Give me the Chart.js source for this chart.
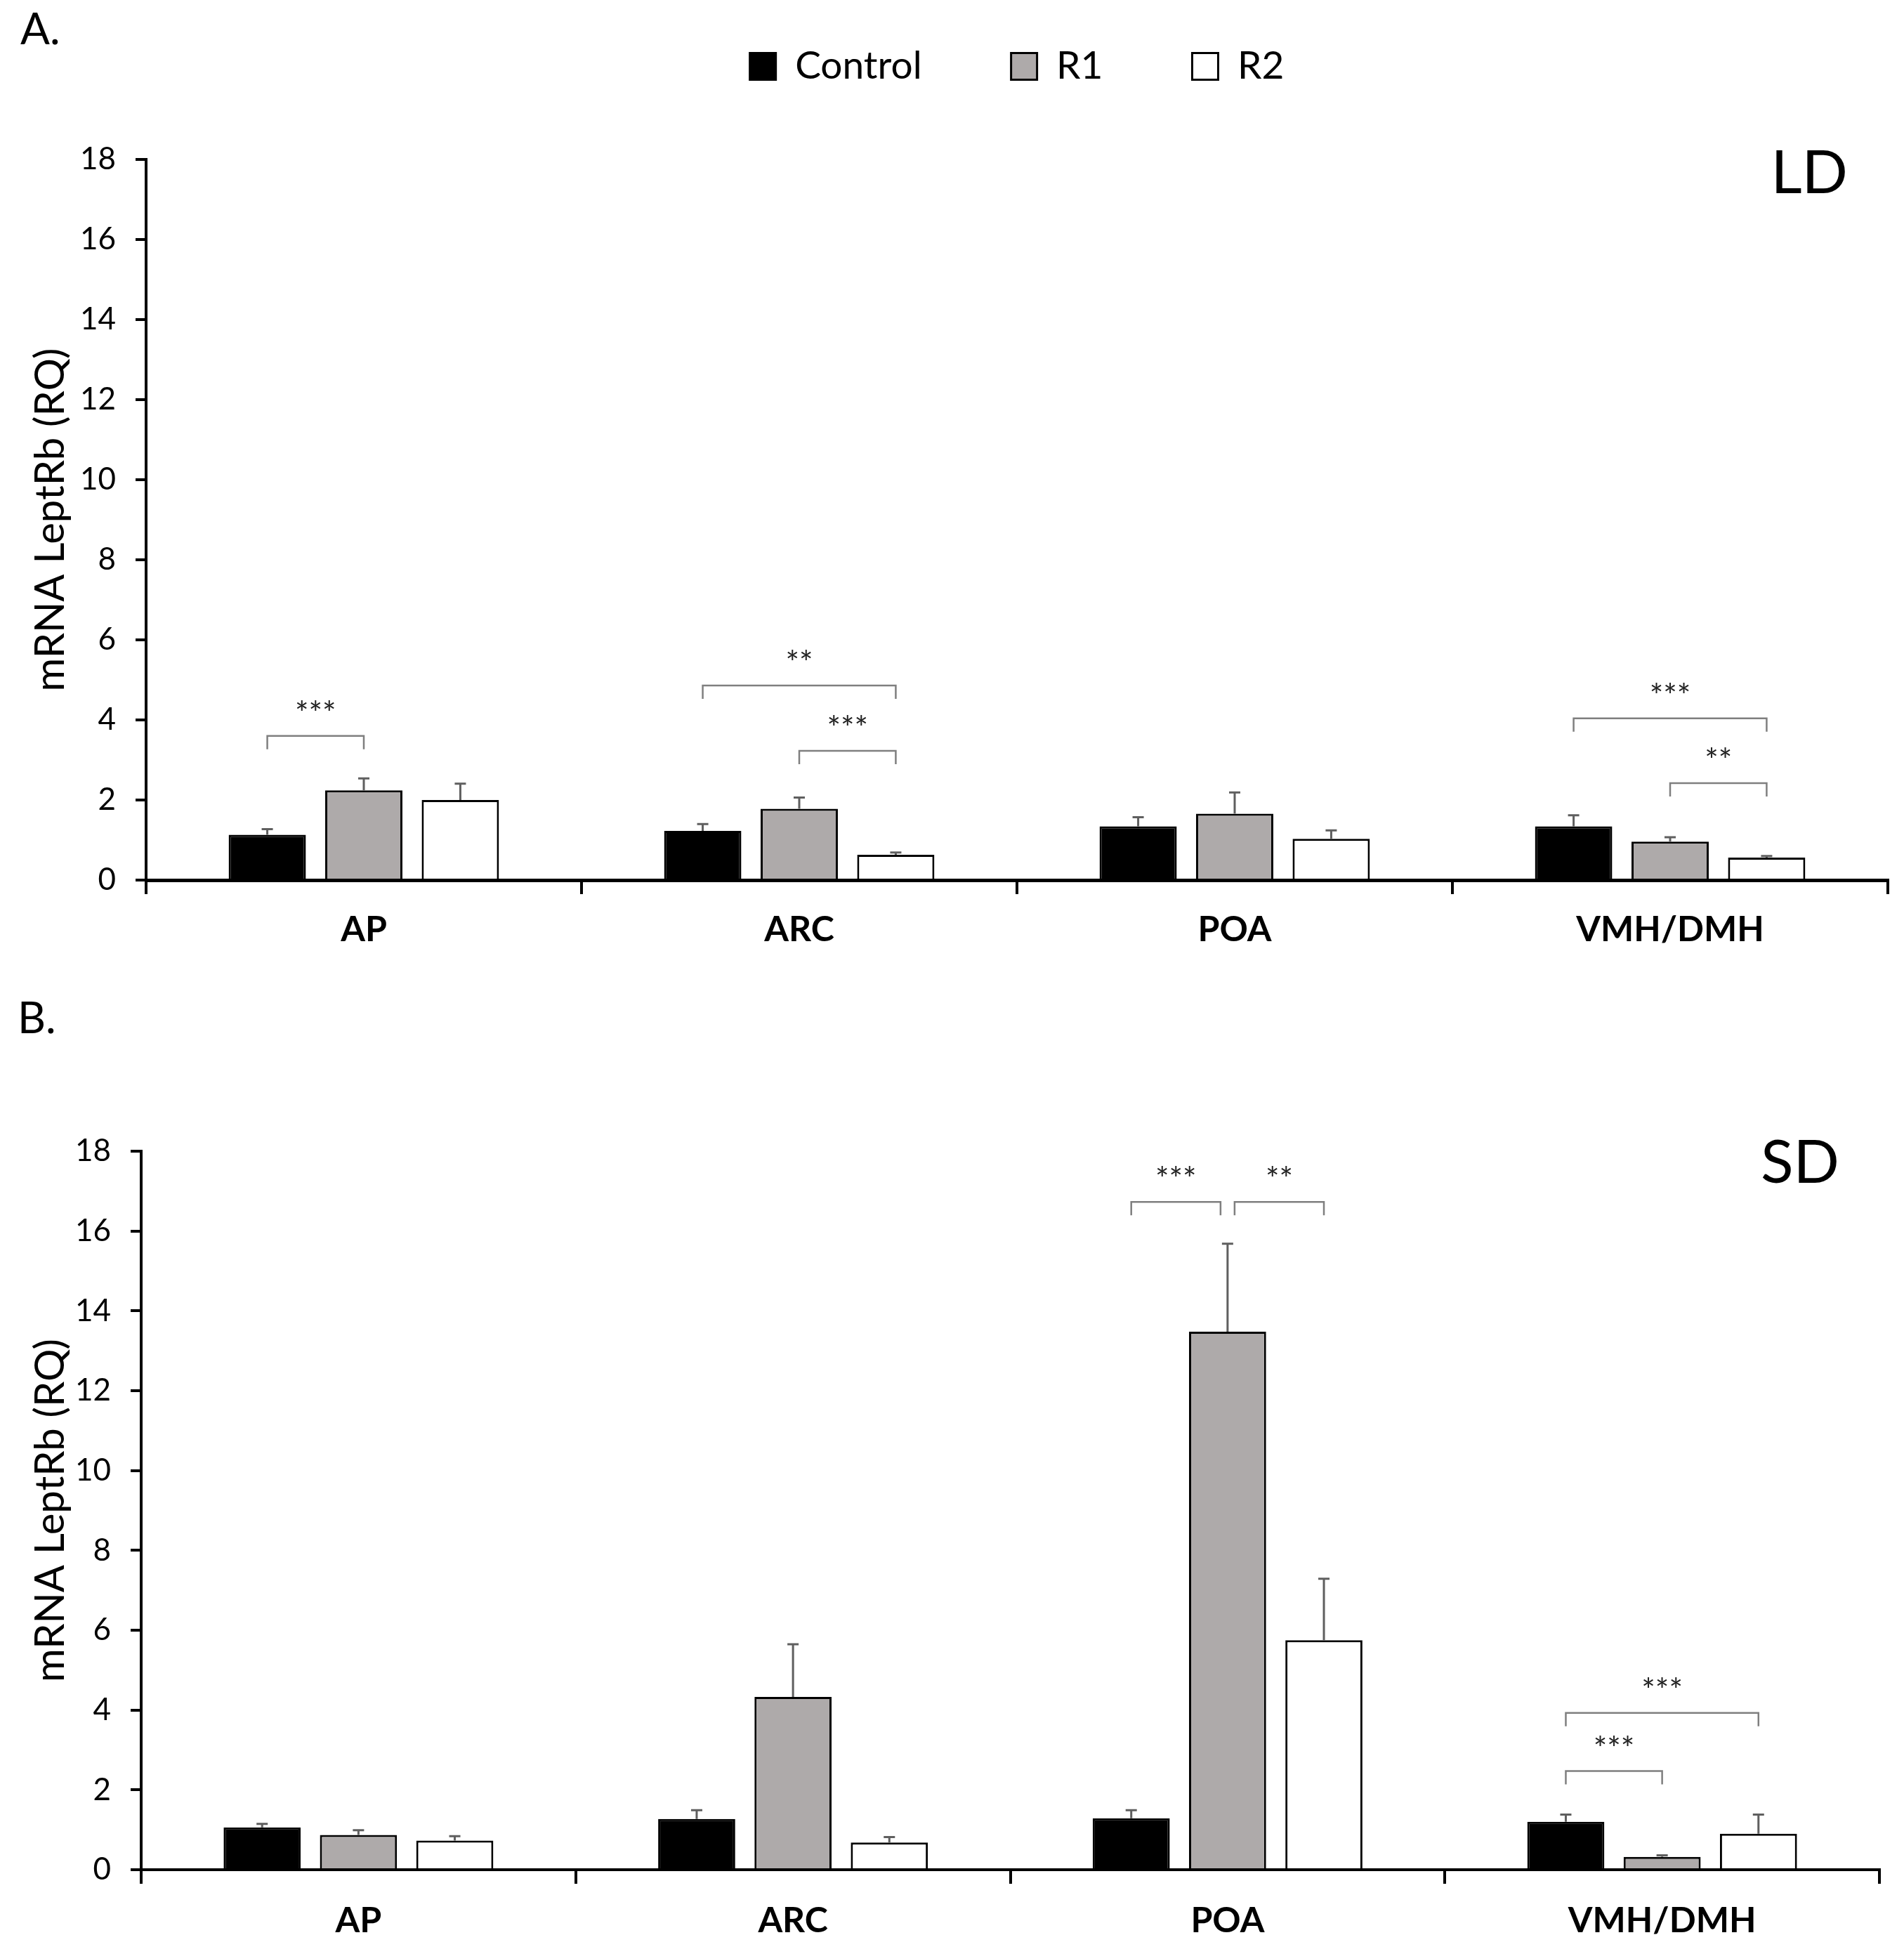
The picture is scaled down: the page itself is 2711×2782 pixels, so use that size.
<!DOCTYPE html>
<html>
<head>
<meta charset="utf-8">
<script src="https://cdn.jsdelivr.net/npm/chart.js@4.4.1/dist/chart.umd.min.js"></script>
<style>
  html, body { margin: 0; padding: 0; background: #fff; }
  body { width: 2711px; height: 2782px; position: relative; overflow: hidden; font-family: Lato, "Open Sans", sans-serif; }
  canvas { position: absolute; left: 0; }
  .lbl { position: absolute; line-height: 1; color: #000; white-space: nowrap; }
</style>
</head>
<body>
<div class="lbl" style="left:29px; top:8px; font-size:62px;">A.</div>
<div class="lbl" style="left:25px; top:1416px; font-size:62px;">B.</div>
<div class="lbl" style="right:80px; top:199px; font-size:86px;">LD</div>
<div class="lbl" style="right:92px; top:1608px; font-size:86px;">SD</div>
<canvas id="chartA" width="2711" height="1433" style="top:-60px; width:2711px; height:1433px;"></canvas>
<canvas id="chartB" width="2711" height="1382" style="top:1400px; width:2711px; height:1382px;"></canvas>
<script>
// ---------- data ----------
const categories = ['AP', 'ARC', 'POA', 'VMH/DMH'];
const seriesNames = ['Control', 'R1', 'R2'];
const yMin = 0, yMax = 18, yStep = 2;
const yTitle = 'mRNA LeptRb (RQ)';

// Panel A (LD)
const ldControl    = [1.13, 1.23, 1.34, 1.34];
const ldR1         = [2.24, 1.78, 1.66, 0.96];
const ldR2         = [2.00, 0.63, 1.03, 0.56];
const ldControlErr = [0.14, 0.17, 0.23, 0.28];
const ldR1Err      = [0.30, 0.28, 0.53, 0.11];
const ldR2Err      = [0.41, 0.06, 0.21, 0.04];
// [category, fromSeries, toSeries, level, label]
const ldBrackets = [
  [0, 0, 1, 3.60, '***'],
  [1, 0, 2, 4.86, '**'],
  [1, 1, 2, 3.23, '***'],
  [3, 0, 2, 4.04, '***'],
  [3, 1, 2, 2.42, '**']
];

// Panel B (SD)
const sdControl    = [1.06, 1.27, 1.29, 1.20];
const sdR1         = [0.87, 4.33, 13.48, 0.32];
const sdR2         = [0.73, 0.68, 5.75, 0.90];
const sdControlErr = [0.09, 0.22, 0.20, 0.18];
const sdR1Err      = [0.12, 1.32, 2.20, 0.04];
const sdR2Err      = [0.11, 0.14, 1.54, 0.48];
const sdBrackets = [
  [2, 0, 1, 16.73, '***'],
  [2, 1, 2, 16.73, '**'],
  [3, 0, 2, 3.93, '***'],
  [3, 0, 1, 2.47, '***']
];

// ---------- styles ----------
const FONT = 'Lato';
const fills = ['#000000', '#AEAAAA', '#FFFFFF'];

Chart.defaults.font.family = FONT;
Chart.defaults.color = '#000';

function makeDatasets(vals, errs) {
  return vals.map((v, i) => ({
    label: seriesNames[i],
    data: v,
    errors: errs[i],
    backgroundColor: fills[i],
    borderColor: '#000',
    borderWidth: 3,
    categoryPercentage: 0.665,
    barPercentage: 0.8
  }));
}

function spacerPlugin(h) {
  return {
    id: 'spacer',
    beforeInit(chart) {
      if (!h) return;
      Chart.layouts.addBox(chart, {
        position: 'top', weight: -10, fullSize: false,
        options: { stackWeight: 1 },
        width: 0, height: 0,
        update(maxW) { this.width = maxW; this.height = h; },
        isHorizontal() { return true; },
        getPadding() { return {top: 0, left: 0, right: 0, bottom: 0}; },
        draw() {}
      });
    }
  };
}

const errorBarPlugin = {
  id: 'errorBars',
  afterDatasetsDraw(chart) {
    const {ctx} = chart;
    const y = chart.scales.y;
    ctx.save();
    ctx.strokeStyle = '#5f5f5f';
    ctx.lineWidth = 3;
    chart.data.datasets.forEach((ds, i) => {
      const meta = chart.getDatasetMeta(i);
      meta.data.forEach((bar, j) => {
        const top = y.getPixelForValue(ds.data[j] + ds.errors[j]);
        ctx.beginPath();
        ctx.moveTo(bar.x, bar.y);
        ctx.lineTo(bar.x, top);
        ctx.moveTo(bar.x - 8, top);
        ctx.lineTo(bar.x + 8, top);
        ctx.stroke();
      });
    });
    ctx.restore();
  }
};

function bracketPlugin(list) {
  return {
    id: 'brackets',
    afterDatasetsDraw(chart) {
      const {ctx} = chart;
      const y = chart.scales.y;
      const xAt = (c, s) => chart.getDatasetMeta(s).data[c].x;
      ctx.save();
      ctx.strokeStyle = '#7f7f7f';
      ctx.lineWidth = 2.5;
      ctx.fillStyle = '#222';
      ctx.font = '46px ' + FONT;
      ctx.textAlign = 'center';
      ctx.textBaseline = 'alphabetic';
      list.forEach(([c, a, b, v, text], k) => {
        let x1 = xAt(c, a), x2 = xAt(c, b);
        list.forEach(([c2, a2, b2, v2], k2) => {
          if (k2 !== k && c2 === c && v2 === v) {
            if (a2 === b) x2 -= 10;
            if (b2 === a) x1 += 10;
          }
        });
        const py = y.getPixelForValue(v);
        ctx.beginPath();
        ctx.moveTo(x1, py + 19);
        ctx.lineTo(x1, py);
        ctx.lineTo(x2, py);
        ctx.lineTo(x2, py + 19);
        ctx.stroke();
        ctx.fillText(text, (x1 + x2) / 2, py - 16);
      });
      ctx.restore();
    }
  };
}

function makeChart(id, vals, errs, brackets, opt) {
  return new Chart(document.getElementById(id), {
    type: 'bar',
    data: { labels: categories, datasets: makeDatasets(vals, errs) },
    plugins: [spacerPlugin(opt.spacer), errorBarPlugin, bracketPlugin(brackets)],
    options: {
      responsive: false,
      animation: false,
      devicePixelRatio: 1,
      layout: { padding: { top: opt.padTop, right: opt.padRight, left: 0, bottom: 0 } },
      plugins: {
        legend: {
          display: opt.legend,
          position: 'top',
          fullSize: false,
          labels: {
            boxWidth: 37, boxHeight: 38, padding: 127,
            color: '#000',
            font: { size: 55, family: FONT }
          }
        },
        tooltip: { enabled: false },
        title: { display: false }
      },
      scales: {
        x: {
          type: 'category',
          offset: true,
          grid: { offset: true, drawOnChartArea: false, drawTicks: true, tickLength: 20, lineWidth: 4, color: '#000' },
          border: { display: true, width: opt.xBorder, color: '#000' },
          ticks: { color: '#000', font: { size: 50, weight: 'bold', family: FONT }, padding: opt.xPad, maxRotation: 0, autoSkip: false },
          afterFit(s) { s.height = 120; }
        },
        y: {
          min: yMin, max: yMax,
          grid: { drawOnChartArea: false, drawTicks: true, tickLength: 15, lineWidth: 4, color: '#000' },
          border: { display: true, width: 4, color: '#000' },
          ticks: { stepSize: yStep, color: '#000', font: { size: 44, family: FONT }, padding: 28 },
          title: { display: true, text: yTitle, color: '#000', font: { size: 58, family: FONT }, padding: { top: 37, bottom: 0 } },
          afterFit(s) { s.width = opt.yWidth; }
        }
      }
    }
  });
}

makeChart('chartA',
  [ldControl, ldR1, ldR2], [ldControlErr, ldR1Err, ldR2Err], ldBrackets,
  { legend: true, spacer: 95, padTop: 0, padRight: 23, yWidth: 208, xPad: 21, xBorder: 5 });

makeChart('chartB',
  [sdControl, sdR1, sdR2], [sdControlErr, sdR1Err, sdR2Err], sdBrackets,
  { legend: false, spacer: 0, padTop: 239, padRight: 35, yWidth: 201, xPad: 23, xBorder: 4 });
</script>
</body>
</html>
